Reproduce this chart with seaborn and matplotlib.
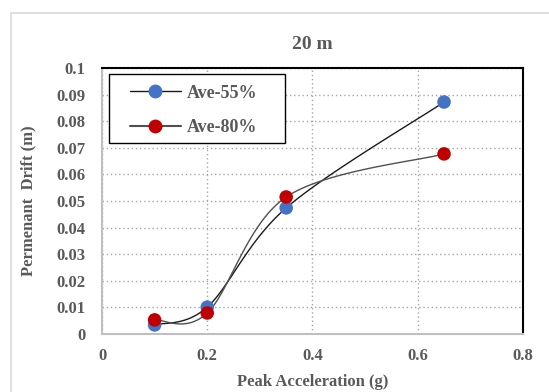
import numpy as np
import pandas as pd
import matplotlib
matplotlib.use('Agg')
import matplotlib.pyplot as plt
from matplotlib.lines import Line2D
from matplotlib.patches import Rectangle
import seaborn as sns

# data
accel = [0.1, 0.2, 0.35, 0.65]
drift_55 = [0.0034, 0.0101, 0.0474, 0.0872]
drift_80 = [0.0053, 0.0079, 0.0515, 0.0677]
series_names = ['Ave-55%', 'Ave-80%']
x_ticks = [0, 0.2, 0.4, 0.6, 0.8]
y_ticks = [0, 0.01, 0.02, 0.03, 0.04, 0.05, 0.06, 0.07, 0.08, 0.09, 0.1]

sns.set_style('white')
plt.rcParams['font.family'] = ['Liberation Serif', 'DejaVu Serif']
plt.rcParams['font.weight'] = 'bold'

txt = '#595959'
blue = '#4472C4'
red = '#C00000'


def smooth(xs, ys, n=40):
    # excel style smoothed line (catmull-rom bezier)
    p = np.column_stack([xs, ys]).astype(float)
    p = np.vstack([p[0], p, p[-1]])
    out = []
    for i in range(1, len(p) - 2):
        p0, p1, p2, p3 = p[i - 1], p[i], p[i + 1], p[i + 2]
        c1 = p1 + (p2 - p0) / 6
        c2 = p2 - (p3 - p1) / 6
        t = np.linspace(0, 1, n)[:, None]
        seg = (1 - t) ** 3 * p1 + 3 * (1 - t) ** 2 * t * c1 + 3 * (1 - t) * t ** 2 * c2 + t ** 3 * p2
        out.append(seg)
    out = np.vstack(out)
    return out[:, 0], out[:, 1]


df = pd.DataFrame({'accel': accel * 2,
                   'drift': drift_55 + drift_80,
                   'series': [series_names[0]] * 4 + [series_names[1]] * 4})

fig = plt.figure(figsize=(5.49, 3.92), dpi=100)
ax = fig.add_axes([0.1858, 0.148, 0.7668, 0.6786])

# outer chart frame
fig.patches.append(Rectangle((11 / 549, -0.05), 1.0, 1.05 - 13 / 392, transform=fig.transFigure,
                             fill=False, edgecolor='#d9d9d9', linewidth=1.2))

sx, sy = smooth(accel, drift_55)
ax.plot(sx, sy, color='#1a1a1a', linewidth=1.0, zorder=2)
sx, sy = smooth(accel, drift_80)
ax.plot(sx, sy, color='#505050', linewidth=1.0, zorder=2)

sns.scatterplot(data=df, x='accel', y='drift', hue='series', palette=[blue, red],
                s=95, edgecolor='none', ax=ax, legend=False, zorder=3)

ax.set_xlim(0, 0.8)
ax.set_ylim(0, 0.1)
ax.set_xticks(x_ticks)
ax.set_yticks(y_ticks)
ax.set_xticklabels(['0', '0.2', '0.4', '0.6', '0.8'])
ax.set_yticklabels(['0', '0.01', '0.02', '0.03', '0.04', '0.05', '0.06', '0.07', '0.08', '0.09', '0.1'])
ax.tick_params(axis='both', labelsize=12, labelcolor=txt, length=0, pad=12)
ax.tick_params(axis='x', pad=10)
for lab in ax.get_xticklabels() + ax.get_yticklabels():
    lab.set_fontweight('bold')

ax.grid(True, linestyle=(0, (1, 2)), color='#a6a6a6', linewidth=1.0)
ax.set_axisbelow(True)

for side in ['left', 'bottom']:
    ax.spines[side].set_color('#bfbfbf')
    ax.spines[side].set_linewidth(1.5)
for side in ['top', 'right']:
    ax.spines[side].set_color('#000000')
    ax.spines[side].set_linewidth(1.5)
    ax.spines[side].set_visible(True)

ax.set_title('20 m', fontsize=14, fontweight='bold', color=txt, pad=14)
ax.set_xlabel('Peak Acceleration (g)', fontsize=12, fontweight='bold', color=txt, labelpad=7)
ax.set_ylabel('Permenant  Drift (m)', fontsize=12, fontweight='bold', color=txt, labelpad=14)

# legend box drawn separately so its size can follow the reference
ax.add_patch(Rectangle((0.017, 0.718), 0.418, 0.259, transform=ax.transAxes,
                       facecolor='white', edgecolor='black', linewidth=1.0, zorder=4))
handles = [Line2D([], [], color='#1a1a1a', lw=1.0, marker='o', markersize=10,
                  markerfacecolor=blue, markeredgecolor='none'),
           Line2D([], [], color='#505050', lw=1.5, marker='o', markersize=10,
                  markerfacecolor=red, markeredgecolor='none')]
leg = ax.legend(handles, series_names, loc='upper left', bbox_to_anchor=(0.0665, 0.937),
                frameon=False, prop={'size': 13, 'weight': 'bold'}, handlelength=2.8,
                labelspacing=0.98, borderpad=0, handletextpad=0.35, borderaxespad=0)
leg.set_zorder(5)
for t in leg.get_texts():
    t.set_color(txt)

plt.savefig('out.png', dpi=100)
plt.close()
